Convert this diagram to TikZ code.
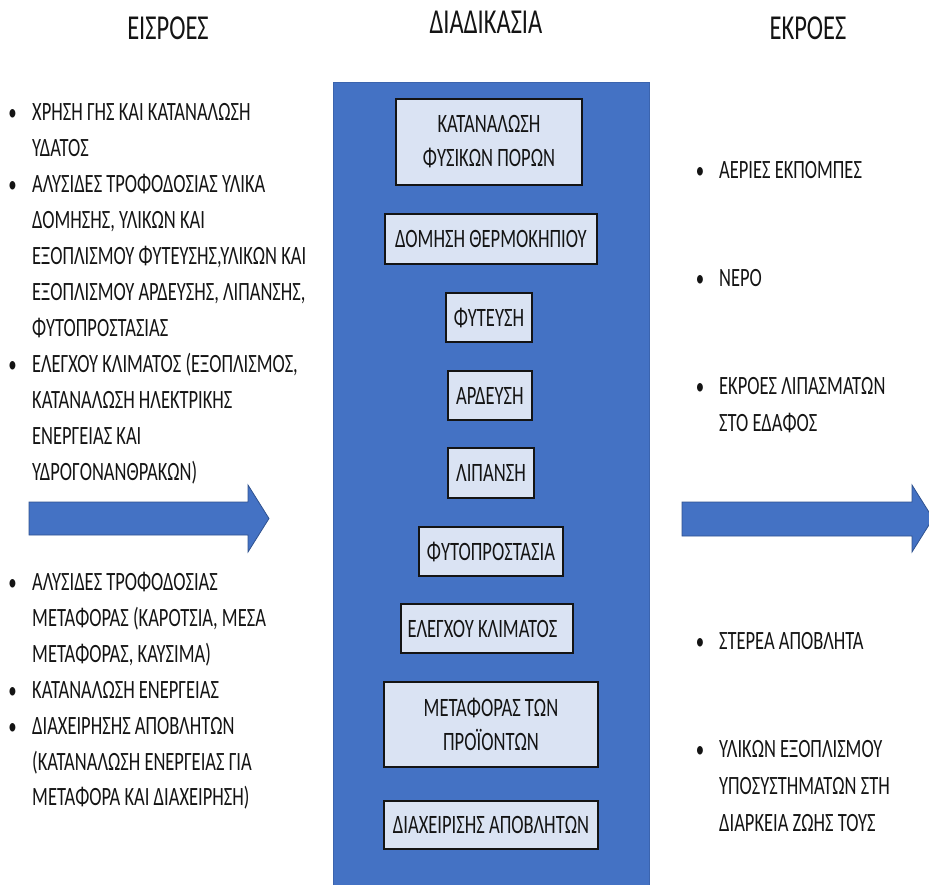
\documentclass[tikz,border=0pt]{standalone}
\usepackage{fontspec}
\setmainfont[FakeStretch=0.70]{Carlito}
\definecolor{procblue}{HTML}{4472C4}
\definecolor{procedge}{HTML}{3B64AE}
\definecolor{arrowedge}{HTML}{2F528F}
\definecolor{stepfill}{HTML}{DAE3F3}
\definecolor{ink}{HTML}{141414}
\tikzset{
  body/.style={font=\fontsize{26.4}{36}\selectfont, text=ink, inner sep=0pt, anchor=base west},
  dot/.style={font=\fontsize{24}{36}\selectfont, text=ink, inner sep=0pt, anchor=base},
  head/.style={font=\fontsize{35}{40}\selectfont, text=ink, inner sep=0pt, anchor=base},
  stepbox/.style={draw=ink, line width=1.1pt, fill=stepfill, inner sep=0pt, align=center,
    font=\fontsize{26.5}{34}\selectfont, text=ink},
  flow/.style={fill=procblue, draw=arrowedge, line width=0.8pt},
}
\begin{document}
\begin{tikzpicture}[x=1pt,y=-1pt]
\useasboundingbox (0,0) rectangle (929,884);

% column headings
\node[head] (hin)   at (168,39) {ΕΙΣΡΟΕΣ};
\node[head] (hproc) at (486,33) {ΔΙΑΔΙΚΑΣΙΑ};
\node[head] (hout)  at (808,39) {ΕΚΡΟΕΣ};

% process column
\filldraw[fill=procblue, draw=procedge, line width=0.8pt] (333,82) rectangle (649,886);
\node[stepbox, minimum width=186pt, minimum height=86pt] (s1) at (489,142) {ΚΑΤΑΝΑΛΩΣΗ\\ΦΥΣΙΚΩΝ ΠΟΡΩΝ};
\node[stepbox, minimum width=212pt, minimum height=50pt] (s2) at (491,239) {ΔΟΜΗΣΗ ΘΕΡΜΟΚΗΠΙΟΥ};
\node[stepbox, minimum width=86pt,  minimum height=49pt] (s3) at (489,317.5) {ΦΥΤΕΥΣΗ};
\node[stepbox, minimum width=84pt,  minimum height=49pt] (s4) at (490,395.5) {ΑΡΔΕΥΣΗ};
\node[stepbox, minimum width=86pt,  minimum height=50pt] (s5) at (491,473) {ΛΙΠΑΝΣΗ};
\node[stepbox, minimum width=144pt, minimum height=49pt] (s6) at (491,551.5) {ΦΥΤΟΠΡΟΣΤΑΣΙΑ};
\node[stepbox, minimum width=172pt, minimum height=49pt] (s7) at (487,628.5) {ΕΛΕΓΧΟΥ ΚΛΙΜΑΤΟΣ\hspace*{9pt}};
\node[stepbox, minimum width=214pt, minimum height=85pt] (s8) at (491,724.5) {ΜΕΤΑΦΟΡΑΣ ΤΩΝ\\ΠΡΟΪΟΝΤΩΝ};
\node[stepbox, minimum width=214pt, minimum height=48pt] (s9) at (491,825) {ΔΙΑΧΕΙΡΙΣΗΣ ΑΠΟΒΛΗΤΩΝ};

% block arrows
\draw[flow] (29,502) -- (248,502) -- (248,485) -- (269,518.5) -- (248,552) -- (248,535) -- (29,535) -- cycle;
\draw[flow] (682,502) -- (912,502) -- (912,485) -- (933,518.5) -- (912,552) -- (912,536) -- (682,536) -- cycle;

% inputs, first group
\foreach \t [count=\i] in {
  {ΧΡΗΣΗ ΓΗΣ ΚΑΙ ΚΑΤΑΝΑΛΩΣΗ},
  {ΥΔΑΤΟΣ},
  {ΑΛΥΣΙΔΕΣ ΤΡΟΦΟΔΟΣΙΑΣ ΥΛΙΚΑ},
  {ΔΟΜΗΣΗΣ, ΥΛΙΚΩΝ ΚΑΙ},
  {ΕΞΟΠΛΙΣΜΟΥ ΦΥΤΕΥΣΗΣ,ΥΛΙΚΩΝ ΚΑΙ},
  {ΕΞΟΠΛΙΣΜΟΥ ΑΡΔΕΥΣΗΣ, ΛΙΠΑΝΣΗΣ,},
  {ΦΥΤΟΠΡΟΣΤΑΣΙΑΣ},
  {ΕΛΕΓΧΟΥ ΚΛΙΜΑΤΟΣ (ΕΞΟΠΛΙΣΜΟΣ,},
  {ΚΑΤΑΝΑΛΩΣΗ ΗΛΕΚΤΡΙΚΗΣ},
  {ΕΝΕΡΓΕΙΑΣ ΚΑΙ},
  {ΥΔΡΟΓΟΝΑΝΘΡΑΚΩΝ)}}
  \node[body] (ia\i) at (32,{120.5+36*(\i-1)}) {\t};
\foreach \k in {1,3,8}
  \node[dot] (ba\k) at (12.5,{120.5+36*(\k-1)}) {•};

% inputs, second group
\foreach \t [count=\i] in {
  {ΑΛΥΣΙΔΕΣ ΤΡΟΦΟΔΟΣΙΑΣ},
  {ΜΕΤΑΦΟΡΑΣ (ΚΑΡΟΤΣΙΑ, ΜΕΣΑ},
  {ΜΕΤΑΦΟΡΑΣ, ΚΑΥΣΙΜΑ)},
  {ΚΑΤΑΝΑΛΩΣΗ ΕΝΕΡΓΕΙΑΣ},
  {ΔΙΑΧΕΙΡΗΣΗΣ ΑΠΟΒΛΗΤΩΝ},
  {(ΚΑΤΑΝΑΛΩΣΗ ΕΝΕΡΓΕΙΑΣ ΓΙΑ},
  {ΜΕΤΑΦΟΡΑ ΚΑΙ ΔΙΑΧΕΙΡΗΣΗ)}}
  \node[body] (ib\i) at (32,{590.5+35.9*(\i-1)}) {\t};
\foreach \k in {1,4,5}
  \node[dot] (bb\k) at (12.5,{590.5+35.9*(\k-1)}) {•};

% outputs
\node[dot]  (bo1) at (700,178) {•};
\node[body] (o1)  at (719,178) {ΑΕΡΙΕΣ ΕΚΠΟΜΠΕΣ};
\node[dot]  (bo2) at (700,286) {•};
\node[body] (o2)  at (719,286) {ΝΕΡΟ};
\node[dot]  (bo3) at (700,394) {•};
\node[body] (o3a) at (719,394) {ΕΚΡΟΕΣ ΛΙΠΑΣΜΑΤΩΝ};
\node[body] (o3b) at (719,431) {ΣΤΟ ΕΔΑΦΟΣ};
\node[dot]  (bo4) at (700,649) {•};
\node[body] (o4)  at (719,649) {ΣΤΕΡΕΑ ΑΠΟΒΛΗΤΑ};
\node[dot]  (bo5) at (700,757) {•};
\node[body] (o5a) at (719,757) {ΥΛΙΚΩΝ ΕΞΟΠΛΙΣΜΟΥ};
\node[body] (o5b) at (719,794) {ΥΠΟΣΥΣΤΗΜΑΤΩΝ ΣΤΗ};
\node[body] (o5c) at (719,831) {ΔΙΑΡΚΕΙΑ ΖΩΗΣ ΤΟΥΣ};
\end{tikzpicture}
\end{document}
